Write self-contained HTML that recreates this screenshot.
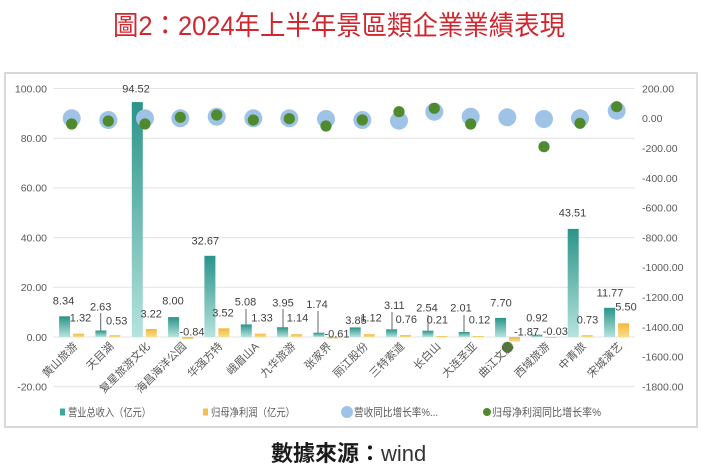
<!DOCTYPE html>
<html>
<head>
<meta charset="utf-8">
<style>
html,body{margin:0;padding:0;background:#fff;}
svg{display:block;}
.t{font-family:"Liberation Sans","Noto Sans CJK SC",sans-serif;}
</style>
</head>
<body>
<svg width="703" height="474" viewBox="0 0 703 474" xmlns="http://www.w3.org/2000/svg">
<defs>
<linearGradient id="gr" x1="0" y1="0" x2="0" y2="1">
<stop offset="0" stop-color="#2a9488"/>
<stop offset="1" stop-color="#b6e3de"/>
</linearGradient>
<linearGradient id="gy" x1="0" y1="0" x2="0" y2="1">
<stop offset="0" stop-color="#f2b93a"/>
<stop offset="1" stop-color="#f9dd8e"/>
</linearGradient>
</defs>
<rect width="703" height="474" fill="#fff"/>
<!-- title -->
<text x="113" y="35" font-family="'Liberation Sans','Noto Sans CJK TC',sans-serif" font-size="27" fill="#d0262e" textLength="452" lengthAdjust="spacingAndGlyphs">圖2：2024年上半年景區類企業業績表現</text>
<!-- frame -->
<rect x="5" y="73" width="692" height="354" fill="none" stroke="#d8d8d8" stroke-width="2"/>
<!-- gridlines -->
<g stroke="#e3e3e3" stroke-width="1">
<line x1="53" y1="88.5" x2="635" y2="88.5"/>
<line x1="53" y1="138.2" x2="635" y2="138.2"/>
<line x1="53" y1="187.9" x2="635" y2="187.9"/>
<line x1="53" y1="237.6" x2="635" y2="237.6"/>
<line x1="53" y1="287.3" x2="635" y2="287.3"/>
<line x1="53" y1="337" x2="635" y2="337"/>
<line x1="53" y1="386.7" x2="635" y2="386.7"/>
</g>
<!-- left axis labels -->
<g class="t" font-size="10.5" fill="#595959" text-anchor="end">
<text x="47" y="92.3">100.00</text>
<text x="47" y="142">80.00</text>
<text x="47" y="191.7">60.00</text>
<text x="47" y="241.4">40.00</text>
<text x="47" y="291.1">20.00</text>
<text x="47" y="340.8">0.00</text>
<text x="47" y="390.5">-20.00</text>
</g>
<!-- right axis labels -->
<g class="t" font-size="10.5" fill="#595959">
<text x="642" y="92.3">200.00</text>
<text x="642" y="122.1">0.00</text>
<text x="642" y="151.9">-200.00</text>
<text x="642" y="181.8">-400.00</text>
<text x="642" y="211.6">-600.00</text>
<text x="642" y="241.4">-800.00</text>
<text x="642" y="271.2">-1000.00</text>
<text x="642" y="301">-1200.00</text>
<text x="642" y="330.8">-1400.00</text>
<text x="642" y="360.7">-1600.00</text>
<text x="642" y="390.5">-1800.00</text>
</g>
<!-- revenue bars -->
<g fill="url(#gr)">
<rect x="59.1" y="316.3" width="11" height="20.7"/>
<rect x="95.4" y="330.5" width="11" height="6.5"/>
<rect x="131.8" y="102.1" width="11" height="234.9"/>
<rect x="168.1" y="317.1" width="11" height="19.9"/>
<rect x="204.4" y="255.8" width="11" height="81.2"/>
<rect x="240.8" y="324.4" width="11" height="12.6"/>
<rect x="277.1" y="327.2" width="11" height="9.8"/>
<rect x="313.4" y="332.7" width="11" height="4.3"/>
<rect x="349.7" y="327.4" width="11" height="9.6"/>
<rect x="386.1" y="329.3" width="11" height="7.7"/>
<rect x="422.4" y="330.7" width="11" height="6.3"/>
<rect x="458.7" y="332" width="11" height="5"/>
<rect x="495.1" y="317.9" width="11" height="19.1"/>
<rect x="531.4" y="334.7" width="11" height="2.3"/>
<rect x="567.7" y="228.9" width="11" height="108.1"/>
<rect x="604.1" y="307.8" width="11" height="29.2"/>
</g>
<!-- profit bars -->
<g fill="url(#gy)">
<rect x="73.1" y="333.7" width="11" height="3.3"/>
<rect x="109.4" y="335.2" width="11" height="1.8"/>
<rect x="145.8" y="329" width="11" height="8"/>
<rect x="182.1" y="337" width="11" height="2.1"/>
<rect x="218.4" y="328.3" width="11" height="8.7"/>
<rect x="254.8" y="333.7" width="11" height="3.3"/>
<rect x="291.1" y="334.2" width="11" height="2.8"/>
<rect x="327.4" y="337" width="11" height="1.6"/>
<rect x="363.7" y="334.2" width="11" height="2.8"/>
<rect x="400.1" y="335.1" width="11" height="1.9"/>
<rect x="436.4" y="336" width="11" height="1"/>
<rect x="472.7" y="336" width="11" height="1"/>
<rect x="509.1" y="337" width="11" height="4.6"/>
<rect x="545.4" y="337" width="11" height="1"/>
<rect x="581.7" y="335.2" width="11" height="1.8"/>
<rect x="618.1" y="323.3" width="11" height="13.7"/>
</g>
<!-- leader lines -->
<g stroke="#666" stroke-width="1">
<line x1="100.7" y1="313" x2="100.7" y2="330.5"/>
<line x1="246" y1="309" x2="246" y2="324.4"/>
<line x1="283" y1="309" x2="283" y2="327.2"/>
<line x1="318" y1="311" x2="318" y2="332.7"/>
<line x1="392" y1="312" x2="392" y2="329.3"/>
<line x1="428" y1="315" x2="428" y2="330.7"/>
<line x1="464" y1="315" x2="464" y2="332"/>
</g>
<!-- data labels -->
<g class="t" font-size="11" fill="#404040" text-anchor="middle">
<text x="136" y="92.3">94.52</text>
<text x="63.5" y="304.7">8.34</text>
<text x="80.5" y="321.7">1.32</text>
<text x="100.7" y="310.7">2.63</text>
<text x="116.7" y="324.7">0.53</text>
<text x="151.2" y="317.3">3.22</text>
<text x="173" y="304.7">8.00</text>
<text x="192" y="335.7">-0.84</text>
<text x="205.3" y="244.7">32.67</text>
<text x="223" y="316.3">3.52</text>
<text x="245.5" y="305.7">5.08</text>
<text x="262" y="321.7">1.33</text>
<text x="283" y="306.3">3.95</text>
<text x="297.5" y="321.7">1.14</text>
<text x="317" y="308">1.74</text>
<text x="337" y="337.3">-0.61</text>
<text x="356" y="324">3.85</text>
<text x="371" y="321.7">1.12</text>
<text x="394.3" y="309">3.11</text>
<text x="406.3" y="323">0.76</text>
<text x="427" y="311.7">2.54</text>
<text x="437.3" y="323.3">0.21</text>
<text x="461" y="311.3">2.01</text>
<text x="479.5" y="323.3">0.12</text>
<text x="501" y="306.3">7.70</text>
<text x="526.5" y="335.7">-1.87</text>
<text x="537" y="321.7">0.92</text>
<text x="555.3" y="335">-0.03</text>
<text x="572.5" y="216.7">43.51</text>
<text x="587.5" y="323.3">0.73</text>
<text x="610" y="296.3">11.77</text>
<text x="626" y="310.7">5.50</text>
</g>
<!-- blue circles -->
<g fill="#9fc3e7">
<circle cx="71.7" cy="118.3" r="9"/>
<circle cx="108.3" cy="120" r="9"/>
<circle cx="145" cy="118.3" r="9"/>
<circle cx="180.3" cy="118.3" r="9"/>
<circle cx="216.7" cy="116.7" r="9"/>
<circle cx="253.3" cy="118.3" r="9"/>
<circle cx="289.3" cy="118.3" r="9"/>
<circle cx="326" cy="119" r="9"/>
<circle cx="362.3" cy="120" r="9"/>
<circle cx="399" cy="120.7" r="9"/>
<circle cx="434.3" cy="111.7" r="9"/>
<circle cx="470.7" cy="116.7" r="9"/>
<circle cx="507.3" cy="117.3" r="9"/>
<circle cx="544" cy="119" r="9"/>
<circle cx="580" cy="118.3" r="9"/>
<circle cx="616.7" cy="110.7" r="9"/>
</g>
<!-- green circles -->
<g fill="#4f8a2f">
<circle cx="71.7" cy="124" r="5.6"/>
<circle cx="108.3" cy="121" r="5.6"/>
<circle cx="145" cy="124" r="5.6"/>
<circle cx="180.3" cy="117.3" r="5.6"/>
<circle cx="216.7" cy="115" r="5.6"/>
<circle cx="253.3" cy="120" r="5.6"/>
<circle cx="289.3" cy="118.7" r="5.6"/>
<circle cx="326" cy="126" r="5.6"/>
<circle cx="362.3" cy="120" r="5.6"/>
<circle cx="399" cy="111.7" r="5.6"/>
<circle cx="434.3" cy="108.3" r="5.6"/>
<circle cx="470.7" cy="124" r="5.6"/>
<circle cx="507.5" cy="347.3" r="5.6"/>
<circle cx="544" cy="146.7" r="5.6"/>
<circle cx="580" cy="123.3" r="5.6"/>
<circle cx="616.7" cy="106.7" r="5.6"/>
</g>
<!-- category labels -->
<g class="t" font-size="11" fill="#595959" text-anchor="end">
<text transform="translate(78,347) rotate(-45)">黄山旅游</text>
<text transform="translate(114.3,347) rotate(-45)">天目湖</text>
<text transform="translate(150.7,347) rotate(-45)">复星旅游文化</text>
<text transform="translate(187,347) rotate(-45)">海昌海洋公园</text>
<text transform="translate(223.3,347) rotate(-45)">华强方特</text>
<text transform="translate(259.7,347) rotate(-45)">峨眉山A</text>
<text transform="translate(296,347) rotate(-45)">九华旅游</text>
<text transform="translate(332.3,347) rotate(-45)">张家界</text>
<text transform="translate(368.6,347) rotate(-45)">丽江股份</text>
<text transform="translate(405,347) rotate(-45)">三特索道</text>
<text transform="translate(441.3,347) rotate(-45)">长白山</text>
<text transform="translate(477.6,347) rotate(-45)">大连圣亚</text>
<text transform="translate(514,347) rotate(-45)">曲江文旅</text>
<text transform="translate(550.3,347) rotate(-45)">西域旅游</text>
<text transform="translate(586.6,347) rotate(-45)">中青旅</text>
<text transform="translate(623,347) rotate(-45)">宋城演艺</text>
</g>
<!-- legend -->
<rect x="60" y="408.5" width="5" height="7" fill="#3ea79b"/>
<rect x="203" y="408.5" width="5" height="7" fill="#f3c04b"/>
<circle cx="347" cy="412" r="6" fill="#9fc3e7"/>
<circle cx="487" cy="412" r="4" fill="#4f8a2f"/>
<g class="t" font-size="11" fill="#595959">
<text x="68" y="416" textLength="83" lengthAdjust="spacingAndGlyphs">营业总收入（亿元）</text>
<text x="211" y="416" textLength="84" lengthAdjust="spacingAndGlyphs">归母净利润（亿元）</text>
<text x="354" y="416" textLength="84" lengthAdjust="spacingAndGlyphs">营收同比增长率%...</text>
<text x="492" y="416" textLength="109" lengthAdjust="spacingAndGlyphs">归母净利润同比增长率%</text>
</g>
<!-- source -->
<text x="271" y="461" font-family="'Liberation Sans','Noto Sans CJK TC',sans-serif" font-size="22" fill="#1a1a1a"><tspan font-weight="bold">數據來源：</tspan><tspan fill="#333">wind</tspan></text>
</svg>
</body>
</html>
